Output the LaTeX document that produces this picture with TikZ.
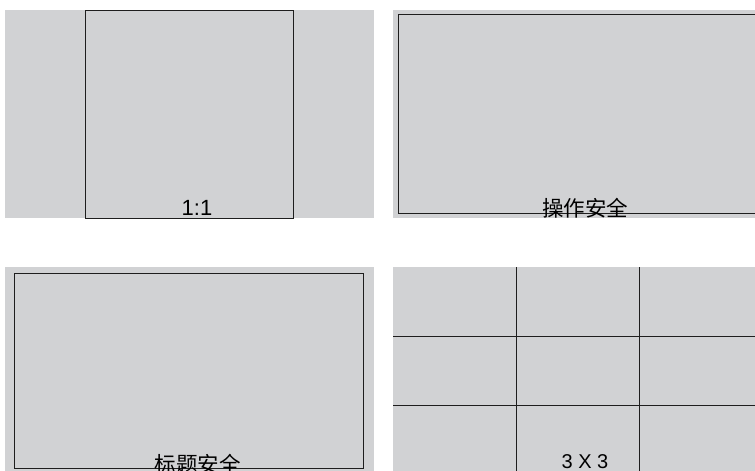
\documentclass[tikz,border=0pt]{standalone}
\usepackage{fontspec}
\setmainfont{Liberation Sans}
\newfontfamily\cjk{Noto Sans CJK SC}
\definecolor{panelgray}{RGB}{209,210,212}
\definecolor{edgecol}{RGB}{30,30,30}
\begin{document}
\begin{tikzpicture}[x=1pt,y=-1pt,
  panel/.style={fill=panelgray,draw=none},
  frame/.style={draw=edgecol,line width=1pt},
  lbl/.style={anchor=base,inner sep=0pt,text=black}]
\useasboundingbox (0,0) rectangle (755,471);
\clip (0,0) rectangle (755,471);
% panel 1
\fill[panel] (5,10) rectangle (374,218);
\draw[frame] (85,10) rectangle (293,218);
\node[lbl,font=\fontsize{22}{24}\selectfont] (t1) at (197,215) {1:1};
% panel 2
\fill[panel] (393,10) rectangle (755,218);
\draw[frame] (398.7,14) rectangle (760,213);
\node[lbl,font=\fontsize{21.5}{24}\selectfont\cjk] (t2) at (585,216) {操作安全};
% panel 3
\fill[panel] (5,267) rectangle (374,471);
\draw[frame] (14,273) rectangle (363.5,468.7);
\node[lbl,font=\fontsize{21.5}{24}\selectfont\cjk] (t3) at (197.5,472) {标题安全};
% panel 4
\fill[panel] (393,267) rectangle (755,471);
\draw[frame] (516,267) -- (516,471);
\draw[frame] (639,267) -- (639,471);
\draw[frame] (393,336.5) -- (755,336.5);
\draw[frame] (393,405.7) -- (755,405.7);
\node[lbl,font=\fontsize{20}{22}\selectfont] (t4) at (585,468.3) {3 X 3};
\end{tikzpicture}
\end{document}
